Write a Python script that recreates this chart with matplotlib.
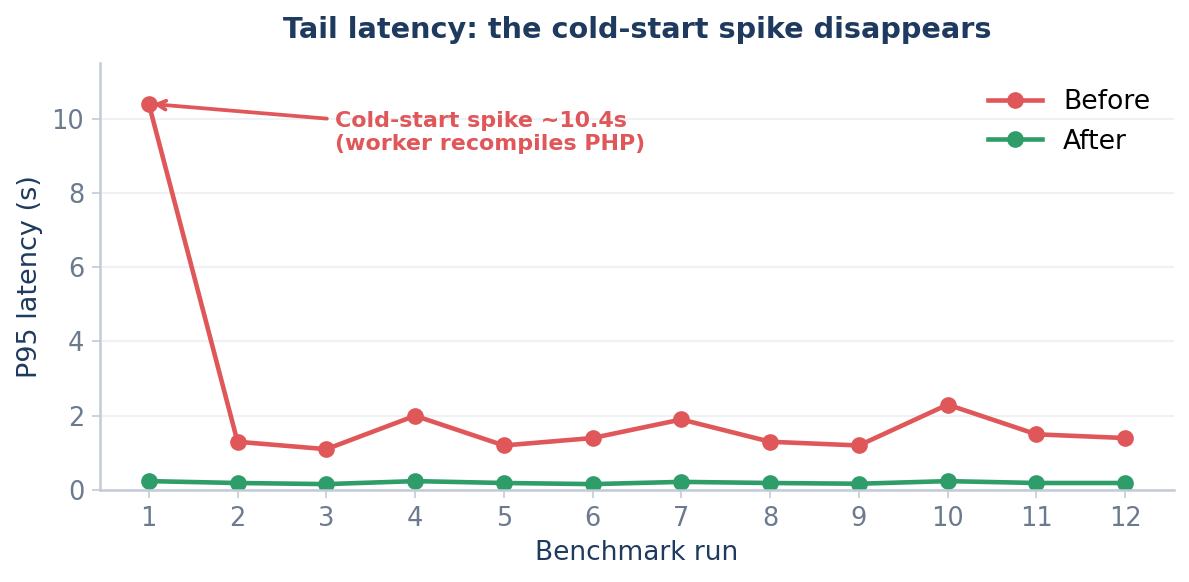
import matplotlib.pyplot as plt

# === Datos ===
runs = list(range(1, 13))
before = [10.4, 1.3, 1.1, 2.0, 1.2, 1.4, 1.9, 1.3, 1.2, 2.3, 1.5, 1.4]
after = [0.24, 0.19, 0.16, 0.24, 0.19, 0.16, 0.22, 0.19, 0.17, 0.24, 0.19, 0.19]

red = "#e05759"
green = "#2e9d69"
navy = "#1f3a5f"
slate = "#6b7a8f"
spine = "#c3cbd6"

fig, ax = plt.subplots(figsize=(7.933, 3.88), dpi=150)
fig.subplots_adjust(left=0.084, right=0.9866, top=0.892, bottom=0.158)

ax.plot(runs, before, color=red, lw=2.2, marker="o", ms=7, label="Before")
ax.plot(runs, after, color=green, lw=2.2, marker="o", ms=7, label="After")

ax.annotate("Cold-start spike ~10.4s\n(worker recompiles PHP)",
            xy=(runs[0], before[0]), xytext=(3.1, 9.63),
            ha="left", va="center", fontsize=10.6, fontweight="bold", color=red,
            arrowprops=dict(arrowstyle="->", color=red, lw=1.8))

ax.set_ylim(0, 11.5)
ax.set_xticks(runs)
ax.set_yticks([0, 2, 4, 6, 8, 10])
ax.set_xlabel("Benchmark run", fontsize=12.7, color=navy)
ax.set_ylabel("P95 latency (s)", fontsize=13, color=navy)
ax.set_title("Tail latency: the cold-start spike disappears", fontsize=13.8,
             fontweight="bold", color=navy, pad=12)

ax.tick_params(axis="both", labelsize=12.3, colors=slate, color=spine, length=4)
ax.grid(True, axis="y", color="#eef1f5", lw=1)
ax.set_axisbelow(True)
for s in ["top", "right"]:
    ax.spines[s].set_visible(False)
for s in ["left", "bottom"]:
    ax.spines[s].set_color(spine)
    ax.spines[s].set_linewidth(1.2)

ax.legend(loc="upper right", frameon=False, fontsize=12.8,
          bbox_to_anchor=(1.0, 0.994))

plt.savefig("out.png", dpi=150)
